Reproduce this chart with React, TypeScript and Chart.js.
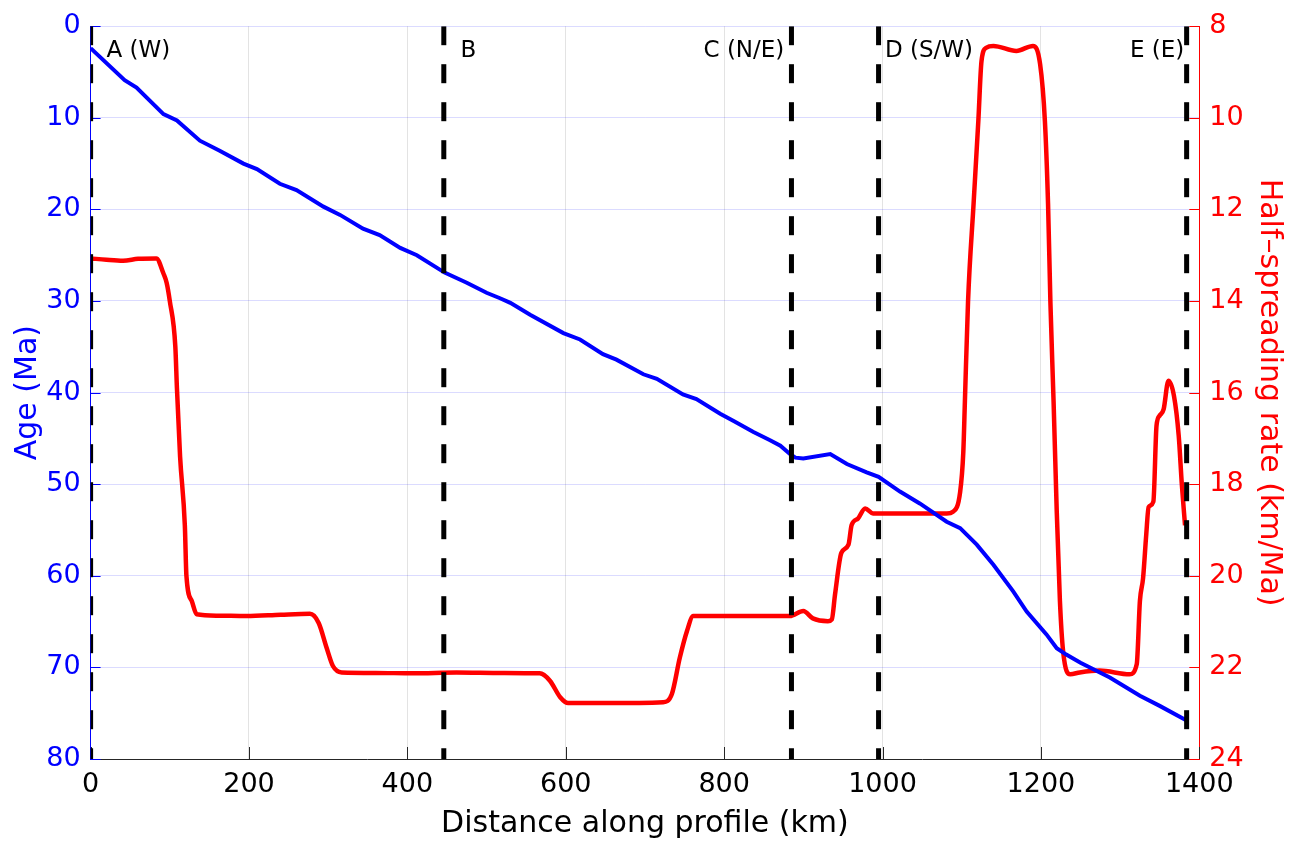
import React, { useEffect, useRef } from "react";
import { Chart, registerables } from "chart.js";

Chart.register(...registerables);

// Age profile (blue, left axis)
const ageKm = [0, 43, 58, 92, 109, 138, 163, 193, 210, 239, 260, 294, 315, 344, 365, 391, 412, 447, 475, 500, 517, 530, 555, 597, 618, 647, 664, 698, 715, 748, 765, 795, 812, 837, 858, 871, 883, 890, 900, 934, 955, 980, 995, 1022, 1047, 1081, 1098, 1119, 1140, 1165, 1182, 1207, 1220, 1232, 1250, 1287, 1325, 1350, 1384];
const ageMa = [2.4, 5.9, 6.7, 9.6, 10.3, 12.5, 13.6, 15.0, 15.6, 17.2, 17.9, 19.7, 20.6, 22.1, 22.8, 24.2, 25.0, 26.9, 28.0, 29.1, 29.7, 30.2, 31.5, 33.5, 34.2, 35.8, 36.4, 38.0, 38.5, 40.2, 40.7, 42.3, 43.1, 44.3, 45.2, 45.8, 46.7, 47.1, 47.2, 46.7, 47.8, 48.7, 49.2, 50.8, 52.1, 54.1, 54.8, 56.6, 58.8, 61.7, 63.9, 66.4, 67.9, 68.6, 69.5, 71.1, 73.1, 74.2, 75.8];

// Half-spreading rate (red, right axis)
const rateKm = [0, 20, 41, 60, 83, 92, 96, 100, 107, 109, 113, 119, 121, 128, 134, 160, 197, 240, 277, 288, 298, 306, 317, 360, 407, 462, 520, 567, 580, 593, 603, 650, 723, 734, 744, 753, 761, 812, 883, 900, 912, 931, 936, 940, 948, 957, 961, 969, 978, 988, 1081, 1089, 1098, 1102, 1104, 1108, 1115, 1121, 1125, 1131, 1140, 1169, 1190, 1199, 1205, 1209, 1212, 1216, 1220, 1224, 1228, 1237, 1249, 1274, 1312, 1321, 1325, 1329, 1333, 1336, 1342, 1346, 1350, 1355, 1361, 1368, 1374, 1378, 1382];
const rateVal = [13.07, 13.1, 13.12, 13.08, 13.07, 13.4, 13.6, 14.0, 15.0, 15.9, 17.4, 18.9, 20.0, 20.56, 20.84, 20.87, 20.88, 20.85, 20.83, 21.03, 21.57, 21.97, 22.11, 22.12, 22.13, 22.11, 22.12, 22.13, 22.29, 22.65, 22.78, 22.78, 22.76, 22.58, 21.79, 21.21, 20.88, 20.88, 20.88, 20.77, 20.93, 20.99, 20.95, 20.41, 19.5, 19.32, 18.89, 18.75, 18.53, 18.64, 18.64, 18.6, 18.17, 17.3, 16.2, 14.0, 11.87, 10.06, 8.76, 8.47, 8.43, 8.54, 8.43, 8.83, 10.06, 11.87, 14.04, 16.2, 18.6, 20.55, 21.64, 22.15, 22.11, 22.07, 22.15, 21.93, 20.55, 20.05, 19.1, 18.5, 18.38, 16.72, 16.5, 16.36, 15.74, 16.07, 16.94, 18.02, 18.9];

// Boundaries and their labels
const boundaryKm = [0, 446, 885, 995, 1384];
const boundaryNames = ["A (W)", "B", "C (N/E)", "D (S/W)", "E (E)"];
const labelKm = [20, 467, 876, 1003, 1381];
const labelAlign = ["left", "left", "right", "left", "right"];
const labelAge = 2.7;

const ageRange = [0, 80];
const rateRange = [8, 24];
const distRange = [0, 1400];

const FONT = "'DejaVu Sans', sans-serif";

const decorPlugin = {
  id: "decor",
  beforeDatasetsDraw(chart: any) {
    const { ctx, chartArea, scales } = chart;
    const { left, right, bottom } = chartArea;
    ctx.save();
    ctx.lineWidth = 1;
    const len = 10;
    ctx.strokeStyle = "#0000ff";
    scales.y.ticks.forEach((t: any) => {
      const py = Math.round(scales.y.getPixelForValue(t.value)) + 0.5;
      ctx.beginPath();
      ctx.moveTo(left, py);
      ctx.lineTo(left + len, py);
      ctx.stroke();
    });
    ctx.strokeStyle = "#ff0000";
    scales.y1.ticks.forEach((t: any) => {
      const py = Math.round(scales.y1.getPixelForValue(t.value)) + 0.5;
      ctx.beginPath();
      ctx.moveTo(right, py);
      ctx.lineTo(right - len, py);
      ctx.stroke();
    });
    ctx.strokeStyle = "#262626";
    scales.x.ticks.forEach((t: any) => {
      const px = Math.round(scales.x.getPixelForValue(t.value)) + 0.5;
      ctx.beginPath();
      ctx.moveTo(px, bottom);
      ctx.lineTo(px, bottom - len - 2);
      ctx.stroke();
    });
    ctx.restore();
  },
  afterDatasetsDraw(chart: any) {
    const { ctx, scales } = chart;
    ctx.save();
    ctx.font = `23px ${FONT}`;
    ctx.fillStyle = "#000000";
    ctx.textBaseline = "middle";
    boundaryNames.forEach((name, i) => {
      ctx.textAlign = labelAlign[i] as CanvasTextAlign;
      ctx.fillText(name, scales.x.getPixelForValue(labelKm[i]), scales.y.getPixelForValue(labelAge));
    });
    ctx.restore();
  },
};

export default function App() {
  const canvasRef = useRef<HTMLCanvasElement | null>(null);

  useEffect(() => {
    const canvas = canvasRef.current;
    if (!canvas) return;
    Chart.defaults.font.family = FONT;

    const boundaryDatasets = boundaryKm.map((km) => ({
      type: "line" as const,
      data: [
        { x: km, y: ageRange[0] },
        { x: km, y: ageRange[1] },
      ],
      yAxisID: "y",
      borderColor: "#000000",
      borderWidth: 5,
      borderDash: [19, 19],
      borderCapStyle: "butt" as const,
      pointRadius: 0,
      fill: false,
      order: 0,
    }));

    const chart = new Chart(canvas, {
      type: "line",
      data: {
        datasets: [
          ...boundaryDatasets,
          {
            data: ageKm.map((k, i) => ({ x: k, y: ageMa[i] })),
            yAxisID: "y",
            borderColor: "#0000ff",
            borderWidth: 4,
            pointRadius: 0,
            tension: 0,
            fill: false,
            order: 1,
          },
          {
            data: rateKm.map((k, i) => ({ x: k, y: rateVal[i] })),
            yAxisID: "y1",
            borderColor: "#ff0000",
            borderWidth: 4.5,
            pointRadius: 0,
            cubicInterpolationMode: "monotone",
            fill: false,
            order: 2,
          },
        ] as any,
      },
      options: {
        responsive: false,
        animation: false,
        layout: { padding: { top: 22, left: 0, right: 0, bottom: 0 } },
        plugins: { legend: { display: false }, tooltip: { enabled: false } },
        scales: {
          x: {
            type: "linear",
            min: distRange[0],
            max: distRange[1],
            ticks: {
              stepSize: 200,
              color: "#000000",
              font: { size: 27 },
              padding: 10,
              autoSkip: false,
              maxRotation: 0,
              callback: (v: any) => String(v),
            },
            grid: { color: "rgba(0,0,0,0.11)", drawTicks: false },
            border: { color: "#262626", width: 1 },
            title: { display: true, text: "Distance along profile (km)", color: "#000000", font: { size: 30 }, padding: { top: 0, bottom: 3 } },
            afterFit: (s: any) => { s.height = 86; },
          },
          y: {
            type: "linear",
            position: "left",
            min: ageRange[0],
            max: ageRange[1],
            reverse: true,
            ticks: { stepSize: 10, color: "#0000ff", font: { size: 27 }, padding: 10, callback: (v: any) => String(v) },
            grid: { color: "rgba(0,0,255,0.14)", drawTicks: false },
            border: { color: "#0000ff", width: 1 },
            title: { display: true, text: "Age (Ma)", color: "#0000ff", font: { size: 30 }, padding: { top: 10, bottom: 0 } },
            afterFit: (s: any) => { s.width = 90.6; },
          },
          y1: {
            type: "linear",
            position: "right",
            min: rateRange[0],
            max: rateRange[1],
            reverse: true,
            ticks: { stepSize: 2, color: "#ff0000", font: { size: 27 }, padding: 10, callback: (v: any) => String(v) },
            grid: { drawOnChartArea: false, drawTicks: false },
            border: { color: "#ff0000", width: 1 },
            title: { display: true, text: "Half–spreading rate (km/Ma)", color: "#ff0000", font: { size: 30 }, padding: { top: 8, bottom: 0 } },
            afterFit: (s: any) => { s.width = 95.7; },
          },
        },
      },
      plugins: [decorPlugin],
    });

    return () => chart.destroy();
  }, []);

  return (
    <div style={{ position: "fixed", left: 0, top: 0, width: 1295, height: 845, background: "#ffffff" }}>
      <canvas ref={canvasRef} width={1295} height={845} style={{ display: "block" }} />
    </div>
  );
}
